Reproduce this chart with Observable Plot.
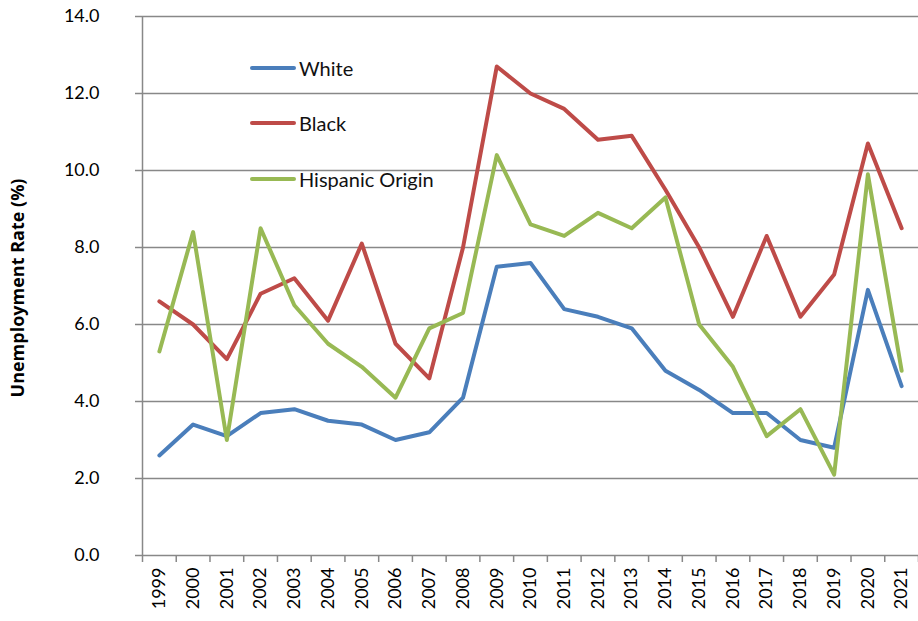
<!DOCTYPE html>
<html><head><meta charset="utf-8">
<script src="https://cdn.jsdelivr.net/npm/d3@7"></script>
<script src="https://cdn.jsdelivr.net/npm/@observablehq/plot@0.6"></script>
<style>
body{margin:0;background:#fff;}
#wrap{position:relative;width:918px;height:621px;font-family:Lato, sans-serif;}
.leg{position:absolute;left:250px;display:flex;align-items:center;font-size:20px;color:#111;}
.leg .sw{width:46px;height:4px;border-radius:2px;margin-right:3px;}
</style></head><body><div id="wrap"></div>
<script>
const years = [1999,2000,2001,2002,2003,2004,2005,2006,2007,2008,2009,2010,2011,2012,2013,2014,2015,2016,2017,2018,2019,2020,2021];
const white = [2.6,3.4,3.1,3.7,3.8,3.5,3.4,3.0,3.2,4.1,7.5,7.6,6.4,6.2,5.9,4.8,4.3,3.7,3.7,3.0,2.8,6.9,4.4];
const black = [6.6,6.0,5.1,6.8,7.2,6.1,8.1,5.5,4.6,8.0,12.7,12.0,11.6,10.8,10.9,9.5,8.0,6.2,8.3,6.2,7.3,10.7,8.5];
const hispanic = [5.3,8.4,3.0,8.5,6.5,5.5,4.9,4.1,5.9,6.3,10.4,8.6,8.3,8.9,8.5,9.3,6.0,4.9,3.1,3.8,2.1,9.9,4.8];
const seriesNames = ["White","Black","Hispanic Origin"];
const seriesColors = ["#4A7EBB","#BE4B48","#98B954"];
const yTicks = [0,2,4,6,8,10,12,14];
const yTitle = "Unemployment Rate (%)";

const data = [];
[white,black,hispanic].forEach((vals,i)=>vals.forEach((v,j)=>data.push({year:years[j],value:v,series:seriesNames[i]})));
const x0 = years[0]-0.5, x1 = years[years.length-1]+0.5;
const boundaries = [...years.map(y=>y-0.5), x1];

const plot = Plot.plot({
  width:918,height:621,marginLeft:142,marginRight:0,marginTop:16,marginBottom:66,
  style:{fontFamily:"Lato, sans-serif",fontSize:"18px",color:"#000",background:"white"},
  x:{type:"linear",domain:[x0,x1]},
  y:{domain:[0,14]},
  color:{domain:seriesNames,range:seriesColors},
  marks:[
    Plot.gridY(yTicks,{stroke:"#888",strokeOpacity:1,strokeWidth:1.5}),
    Plot.ruleX([x0],{stroke:"#888",strokeWidth:1.5}),
    Plot.axisY(yTicks,{tickSize:7,tickPadding:36,tickFormat:d=>d.toFixed(1),stroke:"#888",strokeWidth:1.5,label:null,fontSize:18}),
    Plot.axisX(boundaries,{tickSize:7,tickFormat:()=>"",stroke:"#888",strokeWidth:1.5,label:null}),
    Plot.axisX(years,{tickSize:0,tickPadding:12,tickRotate:-90,tickFormat:d=>String(d),label:null,fontSize:18}),
    Plot.line(data,{x:"year",y:"value",z:"series",stroke:"series",strokeWidth:4,strokeLinejoin:"round",strokeLinecap:"round"}),
    Plot.text([yTitle],{frameAnchor:"left",textAnchor:"middle",rotate:-90,dx:-124,dy:2,fontWeight:"bold",fontSize:18,fontFamily:"Open Sans, sans-serif"})
  ]
});
const wrap = document.getElementById("wrap");
wrap.appendChild(plot);
const legTops = [68,123,179];
seriesNames.forEach((n,i)=>{
  const d = document.createElement("div");
  d.className="leg";
  d.style.top = (legTops[i]-12)+"px";
  d.style.height="24px";
  d.innerHTML = `<span class="sw" style="background:${seriesColors[i]}"></span><span>${n}</span>`;
  wrap.appendChild(d);
});
</script></body></html>
